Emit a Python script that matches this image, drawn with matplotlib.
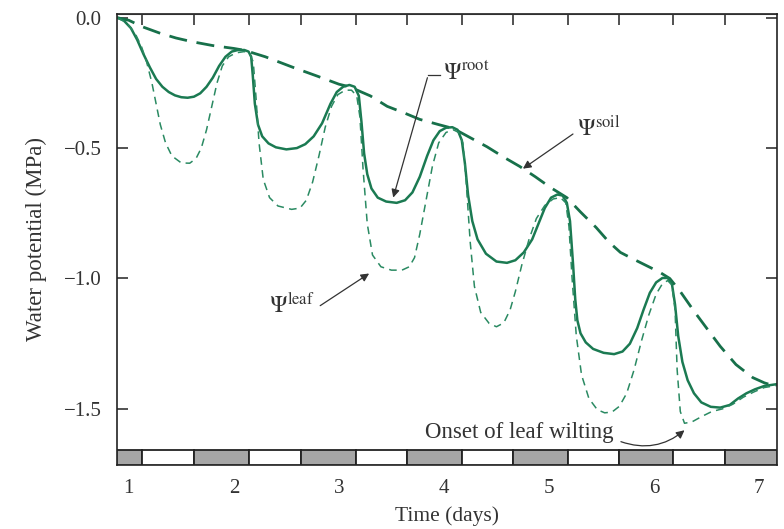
import matplotlib
matplotlib.use('Agg')
import matplotlib.pyplot as plt

# soil water potential (long dashes)
soil_t = [0.89, 1.0, 1.13, 1.3, 1.45, 1.6, 1.8, 2.0, 2.1, 2.3, 2.56, 2.8, 3.0, 3.1,
          3.3, 3.46, 3.62, 3.77, 3.95, 4.09, 4.25, 4.41, 4.57, 4.72, 4.87, 5.01,
          5.17, 5.3, 5.45, 5.57, 5.68, 5.8, 5.95, 6.05, 6.15, 6.25, 6.38, 6.5, 6.63,
          6.78, 6.94, 7.05, 7.17]
soil_psi = [0.0, -0.01, -0.035, -0.06, -0.078, -0.092, -0.107, -0.118, -0.125,
            -0.15, -0.19, -0.225, -0.255, -0.265, -0.3, -0.34, -0.365, -0.39, -0.41,
            -0.425, -0.46, -0.495, -0.535, -0.57, -0.61, -0.65, -0.69, -0.745,
            -0.805, -0.86, -0.9, -0.925, -0.955, -0.975, -1.0, -1.05, -1.125, -1.19,
            -1.26, -1.33, -1.38, -1.4, -1.415]

# root water potential (solid)
root_t = [0.89, 0.95, 1.02, 1.08, 1.14, 1.2, 1.26, 1.32, 1.38, 1.44, 1.5, 1.56,
          1.62, 1.68, 1.74, 1.8, 1.86, 1.92, 1.98, 2.04, 2.1, 2.14, 2.165, 2.18,
          2.2, 2.23, 2.27, 2.33, 2.4, 2.5, 2.6, 2.68, 2.76, 2.84, 2.92, 2.98, 3.04,
          3.1, 3.15, 3.19, 3.215, 3.24, 3.27, 3.31, 3.37, 3.45, 3.55, 3.63, 3.7,
          3.77, 3.84, 3.9, 3.96, 4.02, 4.08, 4.13, 4.17, 4.2, 4.23, 4.27, 4.32,
          4.4, 4.5, 4.6, 4.68, 4.76, 4.84, 4.9, 4.96, 5.02, 5.08, 5.13, 5.17, 5.2,
          5.23, 5.25, 5.27, 5.3, 5.35, 5.42, 5.52, 5.62, 5.7, 5.77, 5.84, 5.9,
          5.96, 6.02, 6.08, 6.13, 6.17, 6.2, 6.23, 6.27, 6.32, 6.38, 6.45, 6.54,
          6.63, 6.72, 6.8, 6.88, 6.96, 7.05, 7.17]
root_psi = [0.0, -0.01, -0.04, -0.085, -0.14, -0.19, -0.235, -0.265, -0.285,
            -0.298, -0.305, -0.307, -0.303, -0.29, -0.265, -0.23, -0.185, -0.15,
            -0.13, -0.124, -0.124, -0.13, -0.15, -0.22, -0.33, -0.41, -0.455,
            -0.482, -0.497, -0.505, -0.5, -0.485, -0.455, -0.405, -0.33, -0.285,
            -0.265, -0.258, -0.265, -0.3, -0.4, -0.52, -0.6, -0.655, -0.69, -0.705,
            -0.71, -0.7, -0.67, -0.61, -0.53, -0.47, -0.435, -0.422, -0.42, -0.43,
            -0.47, -0.56, -0.68, -0.78, -0.85, -0.905, -0.935, -0.94, -0.93, -0.9,
            -0.85, -0.79, -0.73, -0.69, -0.678, -0.682, -0.71, -0.78, -0.95, -1.08,
            -1.16, -1.21, -1.245, -1.27, -1.285, -1.29, -1.28, -1.25, -1.19, -1.12,
            -1.055, -1.015, -0.998, -0.998, -1.02, -1.1, -1.22, -1.32, -1.39,
            -1.44, -1.475, -1.492, -1.495, -1.485, -1.46, -1.44, -1.425, -1.412,
            -1.405]

# leaf water potential (short dashes)
leaf_t = [0.89, 0.98, 1.06, 1.12, 1.17, 1.22, 1.26, 1.3, 1.35, 1.41, 1.5, 1.58,
          1.64, 1.69, 1.74, 1.79, 1.84, 1.89, 1.95, 2.02, 2.1, 2.15, 2.185, 2.21,
          2.24, 2.28, 2.34, 2.42, 2.55, 2.63, 2.69, 2.75, 2.81, 2.87, 2.93, 2.99,
          3.06, 3.12, 3.17, 3.2, 3.23, 3.27, 3.32, 3.4, 3.5, 3.6, 3.67, 3.72, 3.77,
          3.83, 3.89, 3.95, 4.02, 4.09, 4.14, 4.18, 4.21, 4.25, 4.29, 4.35, 4.43,
          4.5, 4.57, 4.63, 4.68, 4.74, 4.81, 4.88, 4.96, 5.04, 5.11, 5.16, 5.19,
          5.22, 5.26, 5.31, 5.38, 5.46, 5.53, 5.6, 5.67, 5.74, 5.81, 5.88, 5.95,
          6.02, 6.08, 6.13, 6.17, 6.2, 6.22, 6.25, 6.29, 6.36, 6.45, 6.55, 6.65,
          6.75, 6.85, 6.95, 7.05, 7.17]
leaf_psi = [0.0, -0.02, -0.06, -0.11, -0.17, -0.25, -0.33, -0.41, -0.48, -0.53,
            -0.557, -0.558, -0.54, -0.5, -0.43, -0.34, -0.25, -0.185, -0.15, -0.135,
            -0.13, -0.138, -0.17, -0.3, -0.48, -0.62, -0.69, -0.722, -0.735,
            -0.73, -0.7, -0.63, -0.53, -0.42, -0.34, -0.295, -0.278, -0.278, -0.3,
            -0.38, -0.58, -0.79, -0.91, -0.955, -0.968, -0.968, -0.955, -0.92,
            -0.83, -0.7, -0.57, -0.48, -0.44, -0.43, -0.44, -0.48, -0.62, -0.86,
            -1.03, -1.13, -1.172, -1.185, -1.17, -1.12, -1.05, -0.95, -0.85, -0.77,
            -0.72, -0.695, -0.69, -0.71, -0.8, -1.0, -1.22, -1.37, -1.46, -1.503,
            -1.515, -1.512, -1.49, -1.44, -1.35, -1.24, -1.14, -1.06, -1.02,
            -1.008, -1.025, -1.12, -1.35, -1.51, -1.555, -1.55, -1.53, -1.51,
            -1.5, -1.482, -1.455, -1.435, -1.418, -1.41]

# day / night strip along the bottom (start, end, is_night)
strip_start = [0.886, 1.13, 1.62, 2.14, 2.64, 3.16, 3.65, 4.17, 4.66, 5.18, 5.67, 6.18, 6.68]
strip_end = [1.13, 1.62, 2.14, 2.64, 3.16, 3.65, 4.17, 4.66, 5.18, 5.67, 6.18, 6.68, 7.17]
strip_night = [1, 0, 1, 0, 1, 0, 1, 0, 1, 0, 1, 0, 1]

day_ticks = [1, 2, 3, 4, 5, 6, 7]
psi_ticks = [0.0, -0.5, -1.0, -1.5]
psi_labels = ['0.0', '\u22120.5', '\u22121.0', '\u22121.5']


def main():
    plt.rcParams['font.family'] = ['Liberation Serif', 'DejaVu Serif']
    plt.rcParams['mathtext.fontset'] = 'stix'

    fig = plt.figure(figsize=(7.84, 5.29), dpi=100)
    ax = fig.add_axes([0.149, 0.121, 0.842, 0.853])

    ink = '#333333'
    ax.plot(soil_t, soil_psi, color='#17704a', lw=2.0, dashes=(6.5, 3.5))
    ax.plot(root_t, root_psi, color='#1b7a52', lw=1.8)
    ax.plot(leaf_t, leaf_psi, color='#2a8a62', lw=1.1, dashes=(5, 3.5))

    ylo, yhi = -1.715, 0.015
    strip_top = -1.657
    for s, e, n in zip(strip_start, strip_end, strip_night):
        ax.bar(s, strip_top - ylo, width=e - s, bottom=ylo, align='edge',
               color='#a6a6a6' if n else 'white', edgecolor='#222222',
               linewidth=1.3, zorder=3)

    ax.set_xlim(0.886, 7.17)
    ax.set_ylim(ylo, yhi)

    ax.set_xticks(day_ticks)
    ax.set_xticklabels([str(d) for d in day_ticks])
    ax.set_yticks(psi_ticks)
    ax.set_yticklabels(psi_labels)
    ax.tick_params(axis='x', length=0, pad=10, labelsize=15, colors=ink)
    ax.tick_params(axis='y', direction='in', length=8, width=1.2, right=True,
                   labelsize=15, pad=11, colors=ink)

    top = ax.secondary_xaxis('top')
    top.set_xticks(strip_start[1:])
    top.set_xticklabels([])
    top.tick_params(direction='in', length=8, width=1.2, colors=ink)
    top.spines['top'].set_color('#777777')

    for sp in ax.spines.values():
        sp.set_linewidth(1.2)
        sp.set_color('#222222')

    ax.set_xlabel('Time (days)', fontsize=15.5, color=ink, labelpad=6)
    ax.set_ylabel('Water potential (MPa)', fontsize=16.5, color=ink, labelpad=12)

    arrow = dict(arrowstyle='-|>', color=ink, lw=0.9, mutation_scale=12)

    # curve labels
    ax.text(3.99, -0.213, r'$\Psi^{\mathrm{root}}$', fontsize=17, color=ink,
            ha='left', va='center')
    ax.plot([3.85, 3.96], [-0.22, -0.22], color=ink, lw=0.9)
    ax.annotate('', xy=(3.51, -0.7), xytext=(3.85, -0.22), arrowprops=arrow)

    ax.text(5.27, -0.425, r'$\Psi^{\mathrm{soil}}$', fontsize=17, color=ink,
            ha='left', va='center')
    ax.annotate('', xy=(4.73, -0.585), xytext=(5.25, -0.44), arrowprops=arrow)

    ax.text(2.33, -1.105, r'$\Psi^{\mathrm{leaf}}$', fontsize=17, color=ink,
            ha='left', va='center')
    ax.annotate('', xy=(3.31, -0.975), xytext=(2.8, -1.11), arrowprops=arrow)

    ax.text(3.82, -1.592, 'Onset of leaf wilting', fontsize=16.5, color=ink,
            ha='left', va='center')
    ax.annotate('', xy=(6.31, -1.575), xytext=(5.66, -1.622),
                arrowprops=dict(arrow, connectionstyle='arc3,rad=0.3'))

    fig.savefig('out.png', dpi=100)


if __name__ == '__main__':
    main()
